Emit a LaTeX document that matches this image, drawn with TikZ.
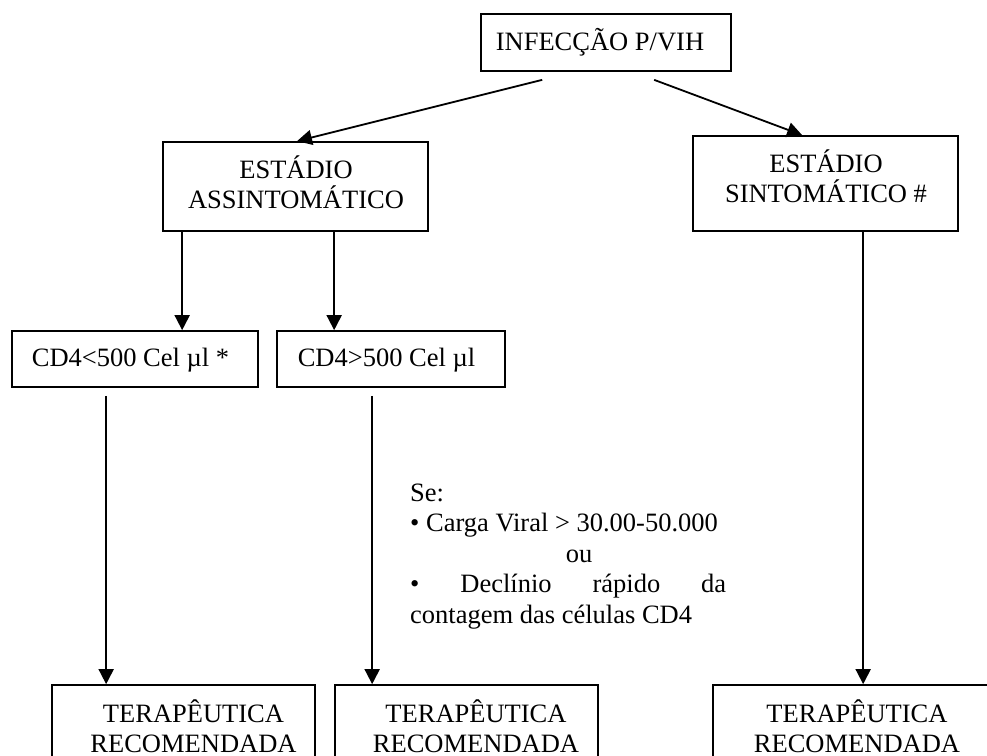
\documentclass[tikz,border=0pt]{standalone}
\usepackage{fontspec}
\setmainfont{Liberation Serif}
\usetikzlibrary{arrows.meta,calc}
\begin{document}
\begin{tikzpicture}[x=1pt,y=-1pt,
  box/.style={draw, line width=1.7pt, inner sep=0pt},
  lbl/.style={anchor=base, inner sep=0pt, font=\fontsize{26.5}{30.5}\selectfont},
  arr/.style={line width=1.8pt, -{Triangle[length=15pt,width=15pt]}}
]
\useasboundingbox (0,0) rectangle (987,755);
\clip (0,0) rectangle (987,755);

% boxes
\node[box, minimum width=250pt, minimum height=57pt] (top) at (606,42.5) {};
\node[box, minimum width=265pt, minimum height=89pt] (assint) at (295.5,186.5) {};
\node[box, minimum width=265pt, minimum height=95pt] (sint) at (825.5,183.5) {};
\node[box, minimum width=246pt, minimum height=56pt] (cda) at (135,359) {};
\node[box, minimum width=228pt, minimum height=56pt] (cdb) at (391,359) {};
\node[box, minimum width=263pt, minimum height=115pt] (bl) at (183.5,742.5) {};
\node[box, minimum width=263pt, minimum height=115pt] (bm) at (466.5,742.5) {};
\node[box, minimum width=288pt, minimum height=115pt] (br) at (857,742.5) {};

% box texts
\node[lbl] (ttop) at (600,50) {INFECÇÃO P/VIH};
\node[lbl] (ta1) at (296,178) {ESTÁDIO};
\node[lbl] (ta2) at (296,208) {ASSINTOMÁTICO};
\node[lbl] (ts1) at (826,172) {ESTÁDIO};
\node[lbl] (ts2) at (826,202) {SINTOMÁTICO \#};
\node[lbl] (tca) at (130.5,366) {CD4<500 Cel µl *};
\node[lbl] (tcb) at (386.5,366) {CD4>500 Cel µl};
\node[lbl] (tbl1) at (193.5,722) {TERAPÊUTICA};
\node[lbl] (tbl2) at (193.5,752) {RECOMENDADA};
\node[lbl] (tbm1) at (476,722) {TERAPÊUTICA};
\node[lbl] (tbm2) at (476,752) {RECOMENDADA};
\node[lbl] (tbr1) at (857,722) {TERAPÊUTICA};
\node[lbl] (tbr2) at (857,752) {RECOMENDADA};

% condition text
\node[lbl, anchor=base west] (se) at (410,501) {Se:};
\node[lbl, anchor=base west] (carga) at (410,531.5) {• Carga Viral > 30.00-50.000};
\node[lbl] (ou) at (579,562) {ou};
\node[lbl, anchor=base west] (decl) at (410,592.5) {\makebox[316pt][s]{• Declínio rápido da}};
\node[lbl, anchor=base west] (cont) at (410,623) {contagem das células CD4};

% connectors
\draw[arr] ($(top.south west)+(62,8)$) -- ($(assint.north)+(1.5,0)$);
\draw[arr] ($(top.south west)+(174,8)$) -- ($(sint.north west)+(110,0)$);
\coordinate (d1) at ($(assint.south west)+(20,0)$);
\coordinate (d2) at ($(assint.south west)+(172,0)$);
\draw[arr] (d1) -- (d1 |- cda.north);
\draw[arr] (d2) -- (d2 |- cdb.north);
\coordinate (l1) at ($(cda.south west)+(95,8)$);
\coordinate (l2) at ($(cdb.south west)+(96,8)$);
\coordinate (l3) at ($(sint.south west)+(171,0)$);
\draw[arr] (l1) -- (l1 |- bl.north);
\draw[arr] (l2) -- (l2 |- bm.north);
\draw[arr] (l3) -- (l3 |- br.north);
\end{tikzpicture}
\end{document}
